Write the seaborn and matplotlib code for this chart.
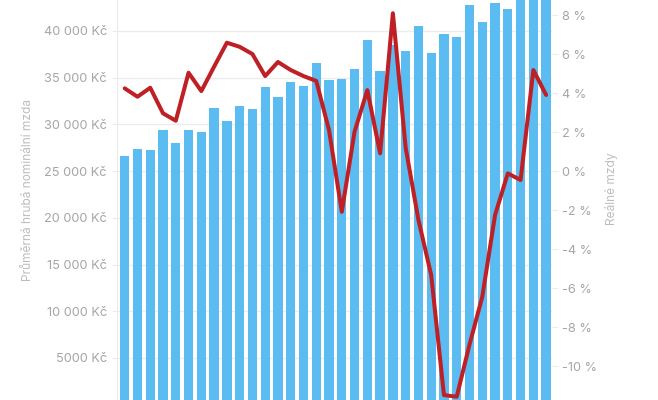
import matplotlib
matplotlib.use("Agg")
import matplotlib.pyplot as plt
import seaborn as sns
import pandas as pd

# ---- data ----
quarters = list(range(34))
nominal_wage = [26650, 27400, 27290, 29430, 27980, 29370, 29190, 31720,
                30370, 31940, 31650, 33970, 32900, 34500, 34080, 36610,
                34720, 34830, 35930, 39000, 35750, 38500, 37820, 40530,
                37610, 39680, 39320, 42810, 40990, 43000, 42390, 44200,
                44600, 46000]
real_wage_growth = [4.24, 3.81, 4.27, 2.96, 2.58, 5.04, 4.10, 5.35,
                    6.58, 6.37, 6.00, 4.87, 5.59, 5.18, 4.87, 4.62,
                    2.10, -2.09, 2.02, 4.15, 0.91, 8.09, 1.20, -2.50,
                    -5.33, -11.49, -11.57, -8.90, -6.45, -2.26, -0.12, -0.46,
                    5.18, 3.90]
left_ticks = [5000, 10000, 15000, 20000, 25000, 30000, 35000, 40000]
left_labels = ["5000 Kč", "10 000 Kč", "15 000 Kč", "20 000 Kč",
               "25 000 Kč", "30 000 Kč", "35 000 Kč", "40 000 Kč"]
right_ticks = [-10, -8, -6, -4, -2, 0, 2, 4, 6, 8]
right_labels = ["-10 %", "-8 %", "-6 %", "-4 %", "-2 %", "0 %",
                "2 %", "4 %", "6 %", "8 %"]
left_title = "Průměrná hrubá nominální mzda"
right_title = "Reálné mzdy"

BAR = "#5bbcf1"
RED = "#bf2026"
TICK = "#a6a6a6"
TITLE = "#bdbdbd"
GRID = "#ececec"

sns.set_theme(style="white")
plt.rcParams["font.family"] = ["Inter", "DejaVu Sans"]

df = pd.DataFrame({"q": quarters, "wage": nominal_wage, "real": real_wage_growth})

fig = plt.figure(figsize=(6.58, 4.0), dpi=100)
ax = fig.add_axes([117 / 658, 0, 435 / 658, 1])

sns.barplot(data=df, x="q", y="wage", color=BAR, saturation=1, width=0.73,
            linewidth=0, ax=ax)
ax.set_xlim(-0.603, 33.46)
ax.set_ylim(503, 43316)
ax.set_axisbelow(True)
ax.yaxis.grid(True, color=GRID, linewidth=1)
ax.xaxis.grid(False)
ax.set_yticks(left_ticks)
ax.set_yticklabels(left_labels)
ax.tick_params(axis="y", left=True, length=3.6, width=0.8, color=GRID,
               pad=3.6, labelsize=9.2, labelcolor=TICK)
ax.tick_params(axis="x", bottom=False, labelbottom=False)
ax.set_xlabel("")
ax.set_ylabel("")
for s in ["top", "right", "bottom"]:
    ax.spines[s].set_visible(False)
ax.spines["left"].set_color(GRID)
ax.spines["left"].set_linewidth(0.8)

ax2 = ax.twinx()
sns.lineplot(data=df, x="q", y="real", color=RED, linewidth=2.9, ax=ax2,
             solid_capstyle="round", solid_joinstyle="round")
ax2.set_xlim(-0.603, 33.46)
ax2.set_ylim(-11.74, 8.77)
ax2.set_yticks(right_ticks)
ax2.set_yticklabels(right_labels)
ax2.tick_params(axis="y", right=True, length=4.3, width=0.8, color=GRID,
                pad=2.9, labelsize=9.2, labelcolor=TICK)
ax2.set_xlabel("")
ax2.set_ylabel("")
ax2.grid(False)
for s in ax2.spines.values():
    s.set_visible(False)

fig.text(28 / 658, 1 - 190 / 400, left_title, rotation=90, ha="center",
         va="center", fontsize=8.6, color=TITLE)
fig.text(612 / 658, 1 - 189 / 400, right_title, rotation=90, ha="center",
         va="center", fontsize=8.6, color=TITLE)

fig.savefig("out.png", dpi=100)
